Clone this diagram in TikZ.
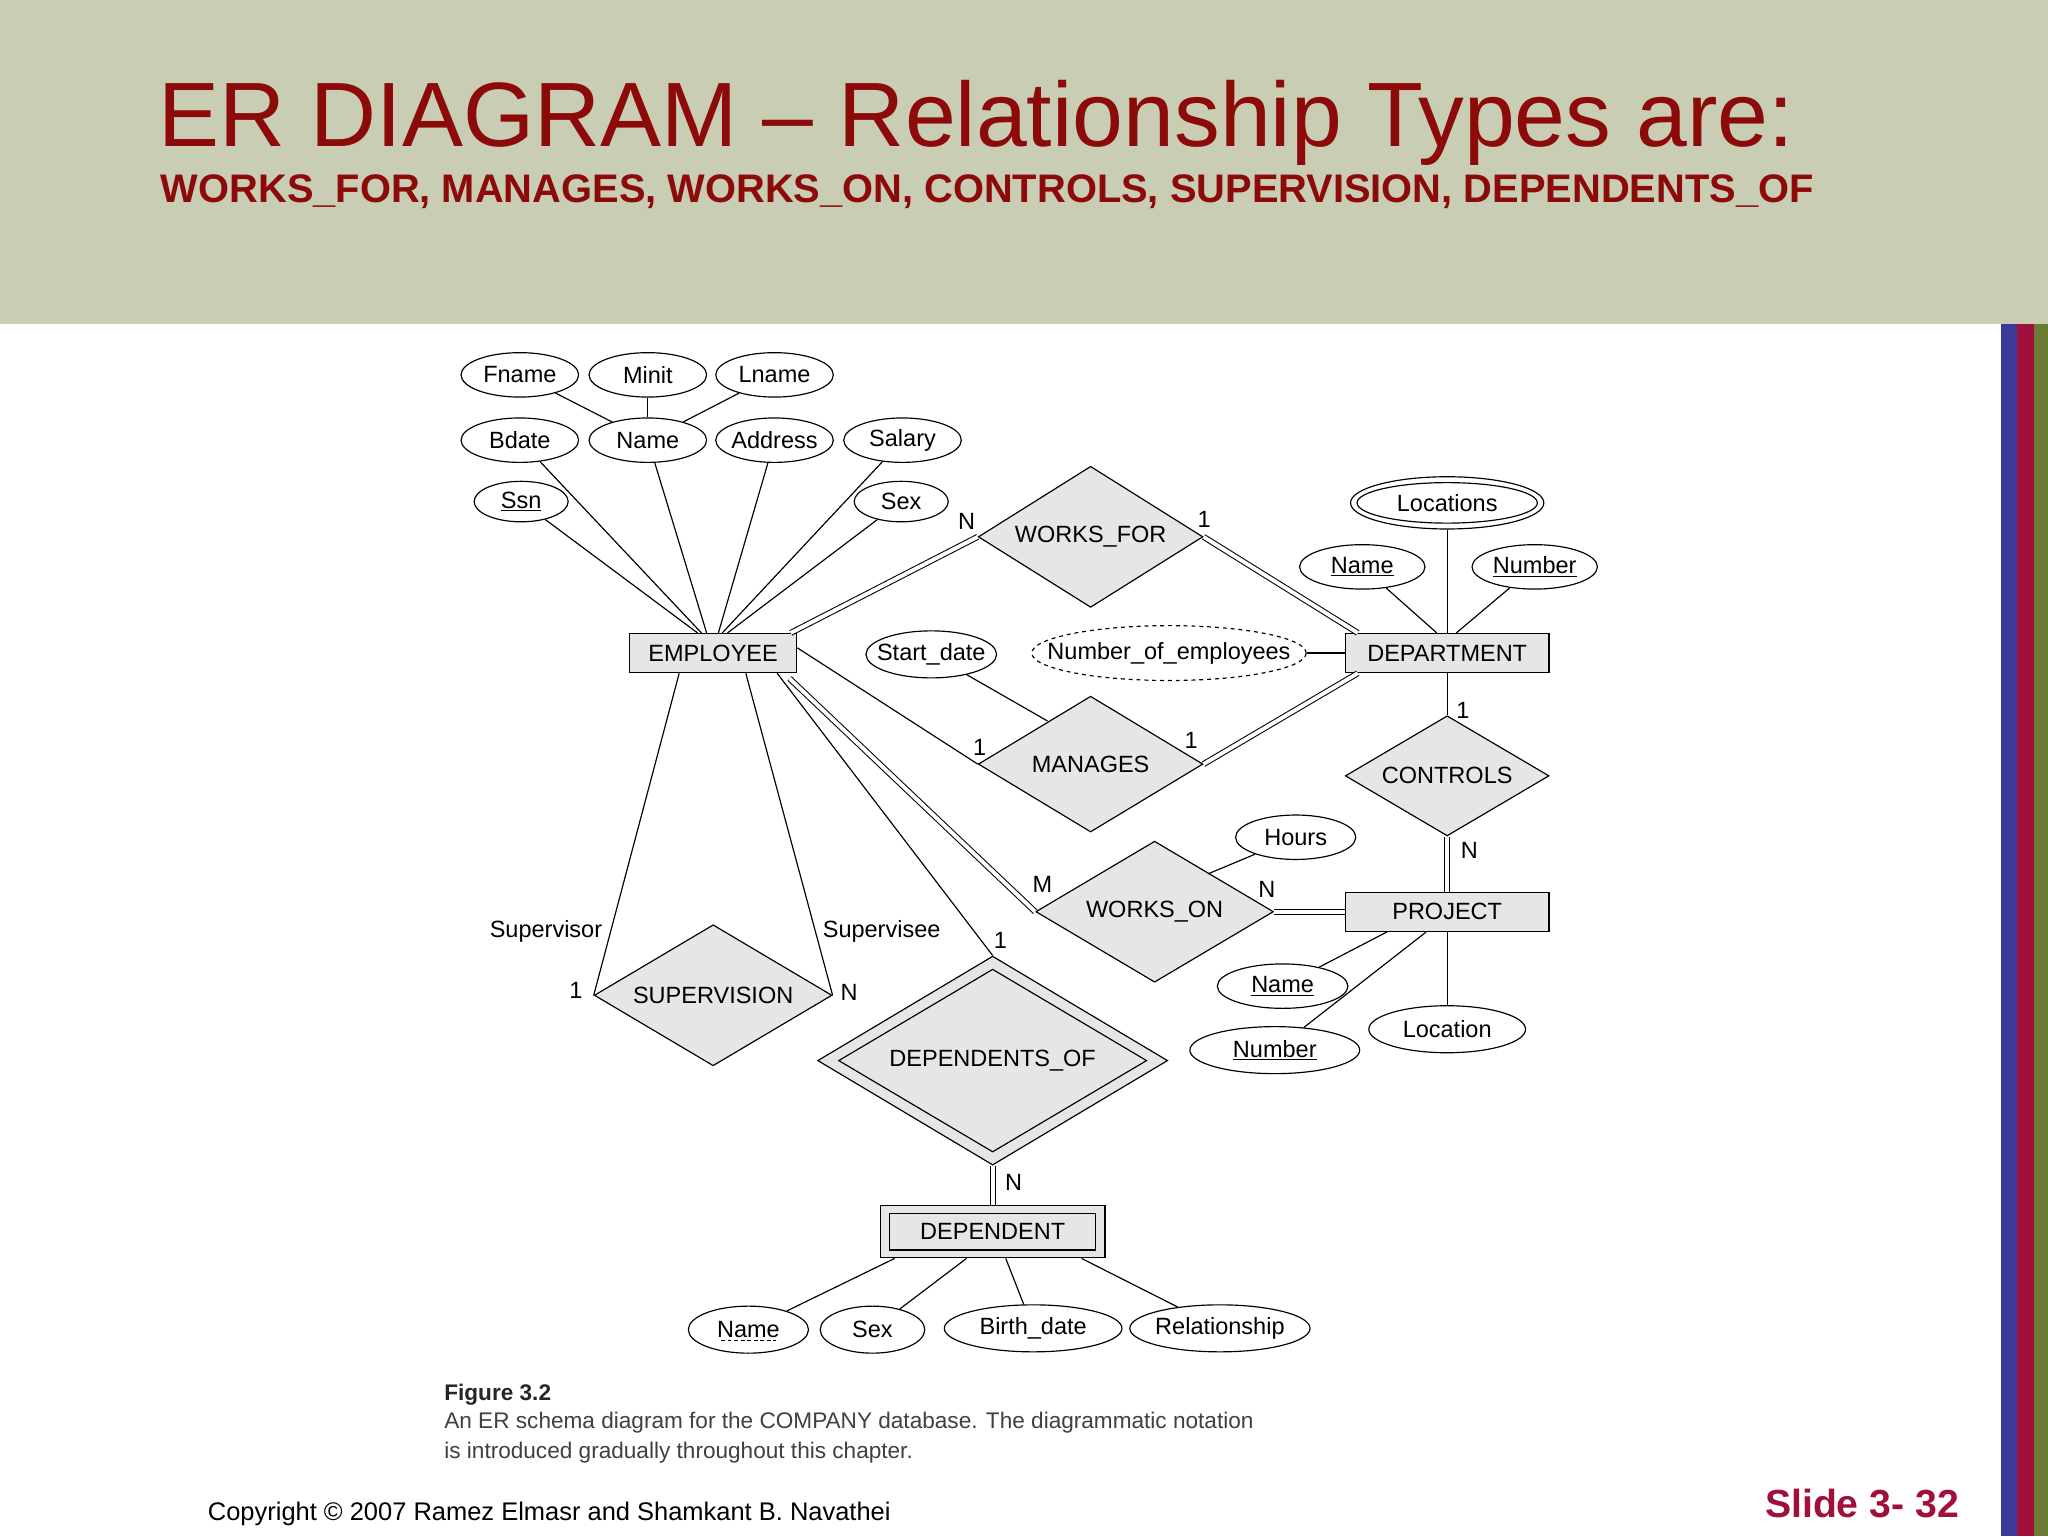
\documentclass[tikz,border=0pt]{standalone}
\usepackage{fontspec}
\setmainfont{Liberation Sans}
\usetikzlibrary{shapes.geometric}
\definecolor{hdr}{HTML}{C8CDB3}
\definecolor{ttl}{HTML}{8C0A0A}
\definecolor{bblue}{HTML}{3A3A9A}
\definecolor{bred}{HTML}{A0103A}
\definecolor{bolive}{HTML}{6B7A33}
\definecolor{shp}{HTML}{E6E6E6}
\tikzset{
 lbl/.style={font=\fontsize{18}{21}\selectfont},
 every label/.style={lbl,inner sep=0pt},
 attr/.style={ellipse,draw,line width=0.9pt,inner sep=0pt,minimum height=34pt},
 ent/.style={rectangle,draw,line width=0.9pt,fill=shp,lbl,inner sep=0pt,minimum height=30pt},
 rel/.style={diamond,draw,line width=0.9pt,fill=shp,inner sep=0pt},
 ln/.style={line width=0.9pt},
 dbl/.style={double,double distance=3pt,line width=0.8pt},
 card/.style={lbl,inner sep=0pt}
}
\begin{document}
\begin{tikzpicture}[x=1pt,y=-1pt]
\useasboundingbox (0,0) rectangle (1568,1176);
\fill[white] (0,0) rectangle (1568,1176);
\fill[hdr] (0,0) rectangle (1568,248);
\fill[bblue] (1532,248) rectangle (1544,1176);
\fill[bred] (1544,248) rectangle (1557,1176);
\fill[bolive] (1557,248) rectangle (1568,1176);
\node[anchor=base west,text=ttl,inner sep=0pt,font=\fontsize{70}{80}\selectfont] (title) at (121,112) {ER DIAGRAM – Relationship Types are:};
\node[anchor=base west,text=ttl,inner sep=0pt,font=\bfseries\fontsize{30.5}{34}\selectfont] (sub) at (123,155) {WORKS\_FOR, MANAGES, WORKS\_ON, CONTROLS, SUPERVISION, DEPENDENTS\_OF};

% employee attributes
\node[attr,minimum width=90pt,label=center:Fname] (fname) at (398,287) {};
\node[attr,minimum width=90pt,label=center:Minit] (minit) at (496,287) {};
\node[attr,minimum width=90pt,label=center:Lname] (lname) at (593,287) {};
\node[attr,minimum width=90pt,label=center:Bdate] (bdate) at (398,337) {};
\node[attr,minimum width=90pt,label=center:Name] (name) at (496,337) {};
\node[attr,minimum width=90pt,label=center:Address] (addr) at (593,337) {};
\node[attr,minimum width=90pt,label=center:Salary] (sal) at (691,337) {};
\node[attr,minimum width=72pt,minimum height=31pt,label={center:\underline{Ssn}}] (ssn) at (399,384) {};
\node[attr,minimum width=72pt,minimum height=31pt,label=center:Sex] (sex) at (690,384) {};
\node[ent,minimum width=128pt] (emp) at (546,500) {EMPLOYEE};
\draw[ln] (fname) -- (name); \draw[ln] (minit) -- (name); \draw[ln] (lname) -- (name);
\draw[ln] (ssn) -- ([xshift=-12pt]emp.north);
\draw[ln] (bdate) -- ([xshift=-9pt]emp.north);
\draw[ln] (name) -- ([xshift=-5pt]emp.north);
\draw[ln] (addr) -- ([xshift=4pt]emp.north);
\draw[ln] (sal) -- ([xshift=7pt]emp.north);
\draw[ln] (sex) -- ([xshift=11pt]emp.north);

% department
\node[ent,minimum width=156pt] (dept) at (1108,500) {DEPARTMENT};
\node[attr,minimum width=148pt,minimum height=40pt] (loc) at (1108,385) {};
\node[attr,minimum width=138pt,minimum height=31pt,label=center:Locations] (loci) at (1108,385) {};
\node[attr,minimum width=96pt,label={center:\underline{Name}}] (dname) at (1043,434) {};
\node[attr,minimum width=96pt,label={center:\underline{Number}}] (dnum) at (1175,434) {};
\draw[ln] (loc) -- (dept.north);
\draw[ln] (dname) -- ([xshift=-8pt]dept.north);
\draw[ln] (dnum) -- ([xshift=7pt]dept.north);
\node[attr,minimum width=210pt,minimum height=42pt,dashed,label=center:Number\_of\_employees] (noe) at (895,500) {};
\draw[ln] (noe) -- (dept.west);

% works_for
\node[rel,minimum width=172pt,minimum height=108pt,label=center:WORKS\_FOR] (wf) at (835,411) {};
\draw[dbl] ([xshift=-5pt]emp.north east) -- (wf.west);
\draw[dbl] (wf.east) -- ([xshift=10pt]dept.north west);
\node[card] (c1) at (740,399) {N};
\node[card] (c2) at (922,398) {1};

% manages
\node[rel,minimum width=172pt,minimum height=104pt,label=center:MANAGES] (man) at (835,585) {};
\node[attr,minimum width=100pt,minimum height=36pt,label=center:Start\_date] (sd) at (713,501) {};
\coordinate (manp) at (802,552);
\draw[ln] (sd) -- (manp);
\draw[ln] ([yshift=4pt]emp.east) -- (man.west);
\draw[dbl] (man.east) -- ([xshift=10pt]dept.south west);
\node[card] (c3) at (750,572) {1};
\node[card] (c4) at (912,567) {1};

% controls / project
\node[rel,minimum width=156pt,minimum height=92pt,label=center:CONTROLS] (ctl) at (1108,594) {};
\node[ent,minimum width=156pt] (proj) at (1108,698) {PROJECT};
\draw[ln] (dept.south) -- (ctl.north);
\draw[dbl] (ctl.south) -- (proj.north);
\node[card] (c5) at (1120,544) {1};
\node[card] (c6) at (1125,651) {N};

% works_on
\node[rel,minimum width=182pt,minimum height=108pt,label=center:WORKS\_ON] (won) at (884,698) {};
\node[attr,minimum width=92pt,label=center:Hours] (hrs) at (992,641) {};
\coordinate (wonp) at (925,669);
\draw[ln] (hrs) -- (wonp);
\draw[dbl] ([xshift=-6pt,yshift=-4pt]emp.south east) -- (won.west);
\draw[dbl] (won.east) -- (proj.west);
\node[card] (c7) at (798,677) {M};
\node[card] (c8) at (970,681) {N};
\node[attr,minimum width=100pt,label={center:\underline{Name}}] (pname) at (982,755) {};
\node[attr,minimum width=130pt,minimum height=36pt,label={center:\underline{Number}}] (pnum) at (976,804) {};
\node[attr,minimum width=120pt,minimum height=36pt,label=center:Location] (ploc) at (1108,788) {};
\draw[ln] ([xshift=-46pt]proj.south) -- (pname);
\draw[ln] ([xshift=-16pt]proj.south) -- (pnum);
\draw[ln] (proj.south) -- (ploc);

% supervision
\node[rel,minimum width=182pt,minimum height=108pt,label=center:SUPERVISION] (sup) at (546,762) {};
\draw[ln] ([xshift=-26pt]emp.south) -- (sup.west);
\draw[ln] ([xshift=25pt]emp.south) -- (sup.east);
\node[card] (c9) at (418,713) {Supervisor};
\node[card] (c10) at (675,713) {Supervisee};
\node[card] (c11) at (441,758) {1};
\node[card] (c12) at (650,760) {N};

% dependents_of
\node[rel,minimum width=268pt,minimum height=160pt] (dof) at (760,812) {};
\node[diamond,draw,line width=0.9pt,inner sep=0pt,minimum width=236pt,minimum height=140pt,label=center:DEPENDENTS\_OF] (dofi) at (760,812) {};
\draw[ln] ([xshift=49pt]emp.south) -- (dof.north);
\node[card] (c13) at (766,720) {1};
\node[ent,minimum width=172pt,minimum height=40pt] (dep) at (760,943) {};
\node[rectangle,draw,line width=0.9pt,minimum width=158pt,minimum height=28pt,inner sep=0pt,lbl] (depi) at (760,943) {DEPENDENT};
\draw[dbl] (dof.south) -- (dep.north);
\node[card] (c14) at (776,905) {N};
\node[attr,minimum width=92pt,minimum height=36pt,label=center:Name] (dn) at (573,1018) {};
\draw[line width=0.8pt,dash pattern=on 3pt off 2pt] (552,1026) -- (594,1026);
\node[attr,minimum width=80pt,minimum height=36pt,label=center:Sex] (dsex) at (668,1018) {};
\node[attr,minimum width=136pt,minimum height=36pt,label=center:Birth\_date] (dbd) at (791,1017) {};
\node[attr,minimum width=138pt,minimum height=36pt,label=center:Relationship] (drel) at (934,1017) {};
\draw[ln] ([xshift=-75pt]dep.south) -- (dn);
\draw[ln] ([xshift=-20pt]dep.south) -- (dsex);
\draw[ln] ([xshift=10pt]dep.south) -- (dbd);
\draw[ln] ([xshift=68pt]dep.south) -- (drel);

% caption
\node[anchor=base west,inner sep=0pt,font=\bfseries\fontsize{17.3}{20}\selectfont,text=black!85] (fig) at (340,1072) {Figure 3.2};
\node[anchor=base west,inner sep=0pt,font=\fontsize{17.3}{20}\selectfont,text=black!75] (cap1) at (340,1094) {An ER schema diagram for the COMPANY database. The diagrammatic notation};
\node[anchor=base west,inner sep=0pt,font=\fontsize{17.3}{20}\selectfont,text=black!75] (cap2) at (340,1117) {is introduced gradually throughout this chapter.};
\node[anchor=base west,inner sep=0pt,font=\fontsize{19.5}{22}\selectfont] (copy) at (159,1164) {Copyright © 2007 Ramez Elmasr and Shamkant B. Navathei};
\node[anchor=base east,inner sep=0pt,font=\bfseries\fontsize{30}{34}\selectfont,text=bred] (slide) at (1500,1162) {Slide 3- 32};
\end{tikzpicture}
\end{document}
